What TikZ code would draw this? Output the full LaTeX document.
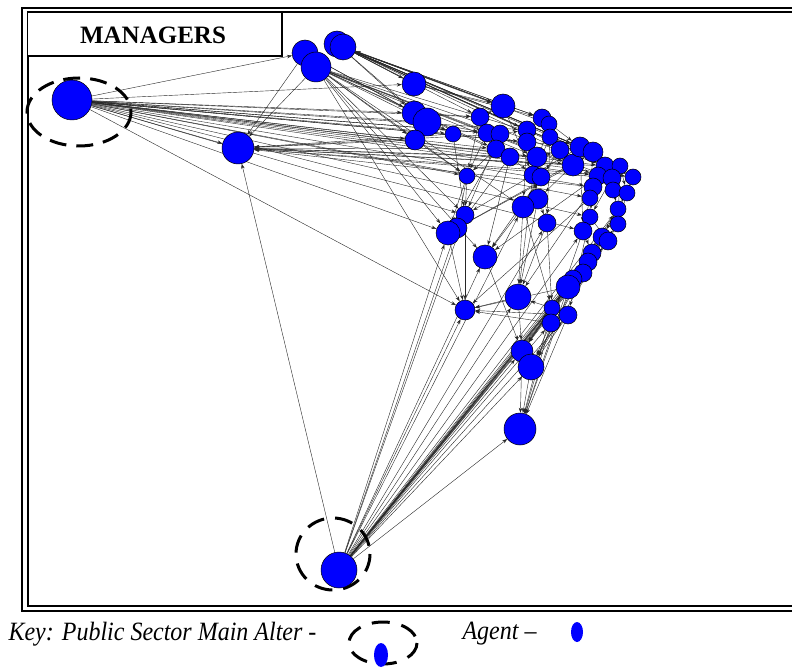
\documentclass[tikz,border=0pt]{standalone}
\usepackage{fontspec}
\setmainfont{Liberation Serif}
\usetikzlibrary{arrows.meta,shapes.geometric}
\pgfdeclarelayer{ties}
\pgfdeclarelayer{agents}
\pgfsetlayers{ties,main,agents}
\definecolor{agblue}{RGB}{0,0,255}
\tikzset{
  agent/.style={circle, fill=agblue, draw=black, line width=0.5pt, inner sep=0pt},
  tie/.style={-{Stealth[length=5pt,width=3.5pt]}, line width=0.4pt, draw=black!85},
  alterring/.style={line width=3pt, dash pattern=on 17pt off 10pt},
  frameouter/.style={line width=1.3pt},
  frameinner/.style={line width=2pt},
  keytext/.style={anchor=west, font=\fontsize{24}{28}\selectfont\itshape, yscale=1.1},
}
\begin{document}
\begin{tikzpicture}[x=1pt,y=-1pt]
\useasboundingbox (0,0) rectangle (792,668);

% double frame
\draw[frameouter] (22,8) rectangle (800,611);
\draw[frameinner] (27.5,12.5) rectangle (800,606);

% title box
\draw[line width=1.5pt, fill=white] (27.5,12.5) rectangle (282,56);
\node[font=\fontsize{25}{29}\selectfont\bfseries] (title) at (153,35) {MANAGERS};

% agents
\begin{pgfonlayer}{agents}
\foreach \n/\x/\y/\r in {
  L/72/100/20, B/339/570/18, A/238/148/16,
  T1/305/53/13, T2/316/67/15, T3/337/44/13, T4/343/47/13,
  c1/414/84/12, c2/414/113/12, c3/427/122/14, c4/415/140/10, c5/453/134/8,
  c6/480/117/9, c7/503/106/12, c8/487/133/9, c9/500/134/9, c10/496/149/9,
  c11/510/157/9, c12/527/130/9, c13/542/118/9, c14/549/124/8, c15/550/137/8,
  c16/527/142/9, c17/537/157/10, c18/560/150/9, c19/573/165/11, c20/580/147/10,
  c21/593/152/10, c22/605/166/9, c23/620/166/8, c24/633/177/8, c25/598/176/9,
  c26/612/178/9, c27/613/190/8, c28/627/193/8, c29/593/187/9, c30/590/198/8,
  c31/618/209/8, c32/618/224/8, c33/590/217/8, c34/583/231/9, c35/602/237/9,
  c36/608/241/9, c37/592/253/9, c38/588/262/9, c39/583/273/9, c40/573/279/9,
  c41/568/287/12, c42/552/308/8, c43/568/315/9, c44/551/323/9, c45/467/176/8,
  c46/533/175/9, c47/541/177/9, c48/538/199/10, c49/523/207/11, c50/547/223/9,
  c51/465/215/9, c52/457/228/10, c53/448/233/12, c54/485/257/12, c55/518/297/13,
  c56/465/310/10, c57/522/351/11, c58/531/367/13, c59/520/429/16}
  \node[agent, minimum size={2*\r pt}] (\n) at (\x,\y) {};
\end{pgfonlayer}

% ties between agents
\begin{pgfonlayer}{ties}
\foreach \a/\b in {
  L/T1, L/c1, L/c2, L/c3, L/c4, L/c5, L/c6, L/c8, L/c12, L/c16, L/c10, L/c19,
  L/c22, L/c24, L/c25, L/A, L/c45, L/c51, L/c53, L/c56, L/c17, L/c29, L/c30,
  L/c33, L/c34, L/c9, L/c20,
  T1/A, T2/A, T2/c45, T2/c51, T2/c53, T2/c54, T2/c49, T2/c56, T2/c4, T2/c3,
  T2/c10, T2/c11, T2/c17, T2/c19, T2/c20, T2/c22, T2/c25, T2/c26,
  T4/c1, T4/c7, T4/c13, T4/c20, T4/c21, T4/c23, T4/c24, T4/c22, T4/c6, T4/c12,
  T3/c2, T3/c3, T3/c7, T4/c18, T4/c14, T1/c2, T1/c5,
  c4/A, c5/A, c10/A, c11/A, c17/A, c19/A, c24/A, c22/A, c26/A, c29/A, c9/A,
  c7/T4, c13/T4, c21/T4, c24/T4, c20/T4, c1/T3,
  c1/c7, c1/c13, c2/c6, c3/c5, c3/c8, c6/c7, c8/c9, c9/c12, c12/c13, c13/c20,
  c16/c17, c17/c18, c18/c19, c19/c21, c20/c23, c21/c24, c22/c26, c23/c28,
  c25/c27, c27/c31, c28/c32, c29/c33, c30/c34, c31/c35, c33/c36, c34/c37,
  c35/c38, c36/c39, c37/c40, c38/c41, c10/c45, c11/c46, c46/c48, c47/c49,
  c48/c50, c45/c51, c45/c52, c4/c45, c46/c55, c48/c55, c49/c55, c50/c55,
  c49/c54, c47/c54, c45/c53, c51/c56, c53/c56, c55/c56, c44/c56, c43/c56,
  c41/c56, c42/c55, c55/c57, c41/c57, c44/c58, c43/c58, c57/c59, c58/c59,
  c41/c59, c43/c59, c44/c59, c40/c59, c42/c59, c54/c57, c49/c42, c50/c42,
  c34/c44, c33/c43, c35/c41, c5/c51, c9/c51, c10/c53, c11/c54, c16/c49,
  c12/c48, c15/c50, c18/c47, c19/c48, c20/c34, c21/c30, c24/c31, c23/c32,
  c26/c33, c28/c35, c11/c52, c8/c45, c6/c45, c7/c46, c14/c46, c15/c46,
  c19/c53, c20/c51, c21/c52, c25/c54, c29/c55, c30/c56, c31/c57, c32/c58,
  c36/c57, c37/c58, c38/c57, c39/c58, c40/c57,
  B/A, B/c53, B/c52, B/c51, B/c56, B/c54, B/c55, B/c57, B/c58, B/c59, B/c43,
  B/c44, B/c42, B/c41, B/c40, B/c39, B/c38, B/c37, B/c36, B/c35, B/c34,
  B/c50, B/c32, B/c31, B/c49}
  \draw[tie] (\a) -- (\b);
\end{pgfonlayer}

% rings marking the public sector main alters
\draw[alterring] (79,112) ellipse (52 and 34);
\draw[alterring, dash pattern=on 18pt off 11pt] (333,554) ellipse (37 and 36);

% key
\node[keytext] (keytxt) at (5,634) {Key: Public Sector Main Alter -};
\draw[line width=3pt, dash pattern=on 18pt off 12pt] (383,643) ellipse (34 and 21);
\node[ellipse, fill=agblue, inner sep=0pt, minimum width=14pt, minimum height=24pt] (keyalter) at (381,655) {};
\node[keytext] (agtxt) at (459,634) {Agent –};
\node[ellipse, fill=agblue, inner sep=0pt, minimum width=12pt, minimum height=20pt] (keyagent) at (577,632) {};
\end{tikzpicture}
\end{document}
